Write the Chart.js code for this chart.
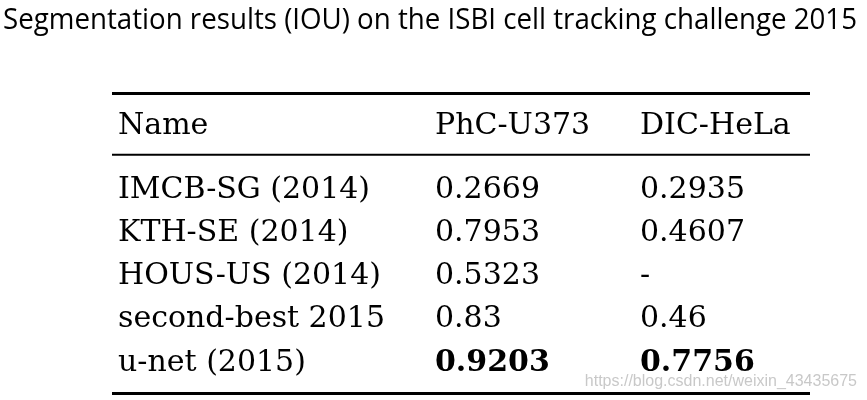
<!DOCTYPE html>
<html>
<head>
<meta charset="utf-8">
<script src="https://cdn.jsdelivr.net/npm/chart.js@4"></script>
<style>
  html, body { margin: 0; padding: 0; background: #fff; }
  #wrap { width: 867px; height: 400px; }
</style>
</head>
<body>
<div id="wrap"><canvas id="iouTable"></canvas></div>
<script>
const title = 'Segmentation results (IOU) on the ISBI cell tracking challenge 2015';
const headers = ['Name', 'PhC-U373', 'DIC-HeLa'];
const methods = ['IMCB-SG (2014)', 'KTH-SE (2014)', 'HOUS-US (2014)', 'second-best 2015', 'u-net (2015)'];
const phcU373 = [0.2669, 0.7953, 0.5323, 0.83, 0.9203];
const dicHeLa = [0.2935, 0.4607, null, 0.46, 0.7756];
const bestRow = 4; // u-net row is bold in the values

// x scale spans the page width; column starts and rule ends in those units
const colX = [118, 435, 640];
const ruleX = [112, 810];
// y units: rows sit one unit apart, rules at top (0) and bottom (max)
const headerY = 0.8;
const midRuleY = 1.45;
const firstRowY = 2.26;

const serif = '"DejaVu Serif", "Liberation Serif", serif';

function cellText(v) {
    return v === null ? '-' : String(v);
}

const columns = [methods, phcU373.map(cellText), dicHeLa.map(cellText)];

const datasets = columns.map((col, c) => ({
    label: headers[c],
    texts: [headers[c]].concat(col),
    data: [{ x: colX[c], y: headerY }].concat(col.map((_, r) => ({ x: colX[c], y: firstRowY + r }))),
    pointRadius: 0,
    showLine: false
}));

const tablePlugin = {
    id: 'tablePlugin',
    afterDatasetsDraw(chart) {
        const ctx = chart.ctx;
        const area = chart.chartArea;
        const xScale = chart.scales.x;
        const yScale = chart.scales.y;
        const x0 = xScale.getPixelForValue(ruleX[0]);
        const x1 = xScale.getPixelForValue(ruleX[1]);
        ctx.save();
        // title
        ctx.fillStyle = '#000';
        ctx.textAlign = 'left';
        ctx.textBaseline = 'alphabetic';
        ctx.font = '29px "Open Sans", "Noto Sans", sans-serif';
        ctx.fillText(title, 3, 29, 854);
        // rules
        ctx.strokeStyle = '#000';
        ctx.lineWidth = 3;
        ctx.beginPath();
        ctx.moveTo(x0, area.top + 1.5);
        ctx.lineTo(x1, area.top + 1.5);
        ctx.moveTo(x0, area.bottom - 1.5);
        ctx.lineTo(x1, area.bottom - 1.5);
        ctx.stroke();
        ctx.lineWidth = 1.8;
        ctx.beginPath();
        const my = yScale.getPixelForValue(midRuleY);
        ctx.moveTo(x0, my);
        ctx.lineTo(x1, my);
        ctx.stroke();
        // cells
        ctx.textBaseline = 'middle';
        chart.data.datasets.forEach((ds, c) => {
            const meta = chart.getDatasetMeta(c);
            meta.data.forEach((pt, i) => {
                const bold = c > 0 && i - 1 === bestRow;
                ctx.font = (bold ? 'bold ' : '') + '30px ' + serif;
                ctx.fillText(ds.texts[i], pt.x, pt.y);
            });
        });
        // watermark
        ctx.font = '16px "Liberation Sans", Arial, sans-serif';
        ctx.fillStyle = 'rgba(190,190,190,0.85)';
        ctx.textAlign = 'right';
        ctx.fillText('https://blog.csdn.net/weixin_43435675', 857, 382);
        ctx.restore();
    }
};

new Chart(document.getElementById('iouTable'), {
    type: 'scatter',
    data: { datasets: datasets },
    options: {
        responsive: true,
        maintainAspectRatio: false,
        animation: false,
        layout: { padding: { left: 0, right: 0, top: 92, bottom: 5 } },
        scales: {
            x: { type: 'linear', min: 0, max: 867, display: false },
            y: { type: 'linear', min: 0, max: 7, reverse: true, display: false }
        },
        plugins: {
            legend: { display: false },
            tooltip: { enabled: false },
            title: { display: false }
        }
    },
    plugins: [tablePlugin]
});
</script>
</body>
</html>
